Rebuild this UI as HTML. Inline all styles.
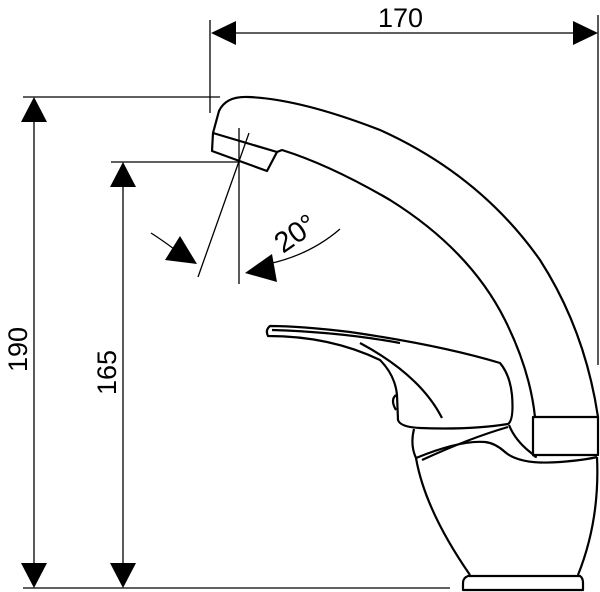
<!DOCTYPE html>
<html><head><style>body{margin:0;background:#fff}svg{display:block}</style></head><body>
<svg width="600" height="592" viewBox="0 0 600 592" xmlns="http://www.w3.org/2000/svg">
<g stroke="#000" stroke-width="1.3" fill="none">
<line x1="210" y1="20" x2="210" y2="113"/>
<line x1="598" y1="15" x2="598" y2="365"/>
<line x1="230" y1="33" x2="578" y2="33"/>
<line x1="23" y1="97" x2="220" y2="97"/>
<line x1="34" y1="120" x2="34" y2="566"/>
<line x1="23" y1="588" x2="450" y2="588"/>
<line x1="111" y1="162" x2="240" y2="162"/>
<line x1="123" y1="185" x2="123" y2="566"/>
<line x1="239" y1="128" x2="239" y2="284"/>
<line x1="249" y1="133" x2="198" y2="277"/>
<path d="M151 233 Q162 240 174 249"/>
<path d="M268 264 Q310 255 340 229"/>
</g>
<g fill="#000">
<polygon points="211,33 236,21 236,45"/>
<polygon points="598,33 573,21 573,45"/>
<polygon points="34,97 21,122 47,122"/>
<polygon points="34,588 21,563 47,563"/>
<polygon points="123,162 110,187 136,187"/>
<polygon points="123,588 110,563 136,563"/>
<polygon points="165,260 197,264 180,236"/>
<polygon points="245,273 272,254 277,282"/>
</g>
<g font-family="Liberation Sans, sans-serif" font-size="27" fill="#000">
<text x="378" y="27">170</text>
<text transform="translate(27,372) rotate(-90)">190</text>
<text transform="translate(116,395) rotate(-90)">165</text>
<text font-size="29" transform="translate(283,254) rotate(-35)">20°</text>
</g>
<g stroke="#000" stroke-width="2.2" fill="none" stroke-linejoin="round">
<path d="M213 133 L219 111 Q226 96 248 97 Q300 99 380 130 Q480 175 540 260 Q585 330 598 417"/>
<path d="M277 152 L282 150 Q330 165 390 200 Q470 250 505 320 Q530 370 535 417"/>
<path d="M213 133 L277 152 L267 171 L212 151 Z"/>
<rect x="533" y="417" width="65" height="38"/>
<path d="M270 326 Q265 330 268 336 Q330 336 380 360 Q395 375 397 395 L398 420 Q400 427 420 428 Q470 430 508 424 Q514 420 512 395 Q510 375 500 363 Q440 345 350 332 Q300 326 270 326 Z"/>
<path d="M272 330 Q340 332 400 343"/>
<path d="M360 343 Q420 375 442 418"/>
<path d="M396 395 Q390 400 396 410"/>
<path d="M414 429 Q410 445 416 458 Q425 510 470 575"/>
<path d="M509 425 Q515 440 530 452 Q540 460 533 455"/>
<path d="M416 458 Q460 440 485 442 Q495 443 505 452 Q520 465 560 462 Q585 460 597 457"/>
<path d="M422 460 Q470 438 508 427"/>
<path d="M597 457 Q600 520 578 575"/>
<path d="M468 576 L580 576 Q583 578 583 583 L583 590 L463 590 L463 583 Q463 578 468 576 Z"/>
</g>
</svg>
</body></html>
